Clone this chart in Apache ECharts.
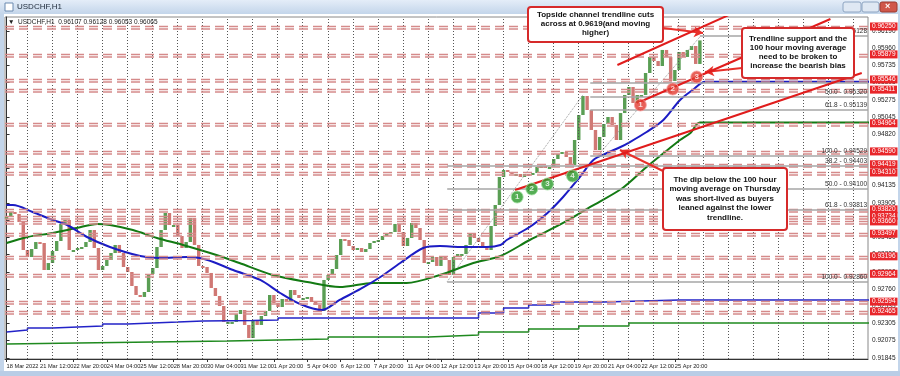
<!DOCTYPE html>
<html>
<head>
<meta charset="utf-8">
<script src="https://cdn.jsdelivr.net/npm/echarts@6/dist/echarts.min.js"></script>
<style>
html, body { margin: 0; padding: 0; background: #fff; }
#chart { width: 900px; height: 376px; }
</style>
</head>
<body>
<div id="chart"></div>
<script>
// one candle every 4 hourly bars, open = previous close
const barsPerCandle = 4;
const closes = [
  0.93719, 0.93785, 0.93759, 0.93652, 0.93280, 0.93187, 0.93293, 0.93386, 0.93373, 0.93014,
  0.93107, 0.93267, 0.93400, 0.93626, 0.93679, 0.93280, 0.93280, 0.93307, 0.93320, 0.93386,
  0.93546, 0.93307, 0.93014, 0.93068, 0.93147, 0.93240, 0.93347, 0.93240, 0.93054, 0.92988,
  0.92802, 0.92682, 0.92656, 0.92722, 0.92961, 0.93041, 0.93320, 0.93546, 0.93772, 0.93612,
  0.93612, 0.93466, 0.93307, 0.93386, 0.93705, 0.93347, 0.93068, 0.93054, 0.92975, 0.92775,
  0.92669, 0.92536, 0.92324, 0.92324, 0.92324, 0.92430, 0.92483, 0.92284, 0.92111, 0.92350,
  0.92284, 0.92403, 0.92470, 0.92682, 0.92576, 0.92523, 0.92629, 0.92589, 0.92749, 0.92682,
  0.92642, 0.92642, 0.92656, 0.92589, 0.92549, 0.92470, 0.92882, 0.92948, 0.93028, 0.93214,
  0.93426, 0.93413, 0.93333, 0.93280, 0.93307, 0.93254, 0.93293, 0.93373, 0.93400, 0.93413,
  0.93466, 0.93506, 0.93519, 0.93626, 0.93519, 0.93333, 0.93440, 0.93639, 0.93572, 0.93413,
  0.93107, 0.93121, 0.93187, 0.93068, 0.93200, 0.93147, 0.92948, 0.93187, 0.93227, 0.93227,
  0.93347, 0.93506, 0.93440, 0.93386, 0.93333, 0.93280, 0.93599, 0.93878, 0.94250, 0.94343,
  0.94317, 0.94290, 0.94290, 0.94250, 0.94290, 0.94277, 0.94303, 0.94383, 0.94396, 0.94383,
  0.94383, 0.94489, 0.94556, 0.94582, 0.94516, 0.94410, 0.94742, 0.95074, 0.95326, 0.95140,
  0.94875, 0.94609, 0.94782, 0.94954, 0.95047, 0.94941, 0.94742, 0.95100, 0.95340, 0.95446,
  0.95233, 0.95340, 0.95340, 0.95632, 0.95845, 0.95791, 0.95725, 0.95938, 0.95845, 0.95526,
  0.95672, 0.95911, 0.95845, 0.95938, 0.95991, 0.95752, 0.96065
];

const xLabelBars = [0, 32, 64, 96, 128, 160, 192, 224, 256, 288, 320, 352, 384, 416, 448, 480, 512, 544, 576, 608, 640];
const xLabelText = ['18 Mar 2022', '21 Mar 12:00', '22 Mar 20:00', '24 Mar 04:00', '25 Mar 12:00', '28 Mar 20:00',
  '30 Mar 04:00', '31 Mar 12:00', '1 Apr 20:00', '5 Apr 04:00', '6 Apr 12:00', '7 Apr 20:00', '11 Apr 04:00',
  '12 Apr 12:00', '13 Apr 20:00', '15 Apr 04:00', '18 Apr 12:00', '19 Apr 20:00', '21 Apr 04:00', '22 Apr 12:00', '25 Apr 20:00'];

const yTicks = [0.96190, 0.95960, 0.95735, 0.95505, 0.95275, 0.95045, 0.94820, 0.94590, 0.94365, 0.94135,
  0.93905, 0.93680, 0.93450, 0.93220, 0.92990, 0.92760, 0.92535, 0.92305, 0.92075, 0.91845];

const redLevels = [0.96250, 0.95879, 0.95546, 0.95411, 0.94964, 0.94590, 0.94419, 0.94310, 0.93820,
  0.93734, 0.93660, 0.93497, 0.93196, 0.92964, 0.92594, 0.92465];

// [bar, price]
const h1Ma100 = [[0, 0.93878], [6, 0.93878], [25, 0.93785], [44, 0.93679], [58, 0.93612], [77, 0.93453],
  [99, 0.93320], [128, 0.93200], [147, 0.93174], [173, 0.93187], [185, 0.93174], [198, 0.93121],
  [217, 0.93014], [243, 0.92882], [262, 0.92709], [281, 0.92563], [302, 0.92483], [319, 0.92616],
  [339, 0.92762], [358, 0.92921], [377, 0.93107], [399, 0.93307], [415, 0.93333], [434, 0.93320],
  [460, 0.93320], [473, 0.93347], [479, 0.93413], [501, 0.93586], [518, 0.93772], [533, 0.93984],
  [549, 0.94250], [562, 0.94476], [575, 0.94569], [588, 0.94649], [597, 0.94715], [613, 0.94848],
  [629, 0.95008], [645, 0.95273], [657, 0.95406], [669, 0.95517], [826, 0.95517]];
const h1Ma200 = [[0, 0.93373], [20, 0.93453], [44, 0.93506], [67, 0.93572], [87, 0.93626], [99, 0.93612],
  [121, 0.93546], [144, 0.93440], [169, 0.93347], [201, 0.93214], [223, 0.93107], [255, 0.92948],
  [288, 0.92855], [319, 0.92788], [351, 0.92842], [383, 0.92842], [415, 0.92948], [447, 0.93107],
  [473, 0.93200], [501, 0.93413], [533, 0.93639], [559, 0.93852], [590, 0.94104], [613, 0.94383],
  [633, 0.94609], [645, 0.94742], [655, 0.94835], [664, 0.94975], [826, 0.94975]];
const d1Ma100 = [[0, 0.92191], [20, 0.92217], [44, 0.92244], [68, 0.92257], [92, 0.92270], [116, 0.92297],
  [140, 0.92310], [164, 0.92323], [188, 0.92337], [236, 0.92343], [260, 0.92350], [452, 0.92377],
  [476, 0.92443], [500, 0.92510], [524, 0.92549], [572, 0.92589], [644, 0.92615], [826, 0.92615]];
const d1Ma200 = [[0, 0.92031], [68, 0.92044], [140, 0.92058], [212, 0.92071], [308, 0.92097], [404, 0.92124],
  [452, 0.92150], [500, 0.92190], [548, 0.92230], [596, 0.92270], [644, 0.92310], [826, 0.92310]];

const fibValues = [0.96128, 0.95507, 0.95320, 0.95139, 0.94529, 0.94403, 0.94100, 0.93813, 0.92860];
const fibNames = ['0.96128', '', '50.0 - 0.95320', '61.8 - 0.95139', '100.0 - 0.94529',
  '38.2 - 0.94403', '50.0 - 0.94100', '61.8 - 0.93813', '100.0 - 0.92860'];
const fibStart = [664, 559, 559, 559, 559, 422, 422, 422, 422];

const trendLines = [
  [[585, 0.95738], [698, 0.96442]],
  [[604, 0.95233], [789, 0.96349]],
  [[487, 0.94077], [819, 0.95632]]
];
const fibDiagonals = [
  [[422, 0.92860], [552, 0.95340]],
  [[566, 0.94529], [665, 0.96128]]
];
const redPoints = [[607, 0.95207], [638, 0.95419], [661, 0.95579]];
const greenPoints = [[489, 0.93984], [503, 0.94091], [518, 0.94157], [542, 0.94263]];

const lastPrice = 0.96065;

// -------------------------------------------------------------
const candleData = closes.map((c, k) => [k * barsPerCandle, k === 0 ? c : closes[k - 1], c]);

const chart = echarts.init(document.getElementById('chart'), null, { renderer: 'canvas' });
const F = '"Liberation Sans", Arial, sans-serif';

const gridLines = [];
for (let b = 20.2; b < 825; b += 23.95) gridLines.push({ xAxis: b });

function helper(name, markLine) {
  return {
    type: 'line', name, data: [[0, 0.94]], symbol: 'none', silent: true,
    lineStyle: { opacity: 0 },
    markLine: Object.assign({ silent: true, symbol: 'none', precision: 5, animation: false }, markLine)
  };
}

function maLabel(bar, value, text, color) {
  return { silent: true, symbol: 'none', precision: 5,
    data: [[{ coord: [bar, value], name: text }, { coord: [825, value] }]],
    lineStyle: { opacity: 0 },
    label: { position: 'insideEndTop', formatter: '{b}', distance: 1, fontSize: 6.5, fontFamily: F, color } };
}

const option = {
  animation: false,
  backgroundColor: '#fff',
  grid: { left: 5, right: 32, top: 17, bottom: 17, show: true, borderColor: '#888', borderWidth: 1, backgroundColor: '#fff' },
  xAxis: {
    type: 'value', min: -1.5, max: 825,
    axisLine: { show: true, lineStyle: { color: '#333' } },
    axisTick: { show: true, customValues: xLabelBars, length: 3, lineStyle: { color: '#333' } },
    axisLabel: {
      customValues: xLabelBars, align: 'left', margin: 4, fontSize: 5.7, fontFamily: F, color: '#222',
      hideOverlap: false,
      formatter: v => xLabelText[xLabelBars.indexOf(v)] || ''
    },
    splitLine: { show: false }
  },
  yAxis: {
    type: 'value', position: 'right', min: 0.918318, max: 0.963760, scale: true,
    axisLine: { show: true, lineStyle: { color: '#333' } },
    axisTick: { show: true, customValues: yTicks, length: 3, lineStyle: { color: '#333' } },
    axisLabel: { customValues: yTicks, margin: 4, fontSize: 6.5, fontFamily: F, color: '#222', formatter: v => v.toFixed(5) },
    splitLine: { show: false }
  },
  series: [
    helper('grid', { data: gridLines, label: { show: false }, lineStyle: { color: '#555', type: [1, 2], width: 1 } }),
    helper('levels', {
      data: redLevels.map(v => ({ yAxis: v, name: v.toFixed(5) })),
      lineStyle: { color: '#d58a8a', type: [9, 5], width: 1.3, shadowColor: '#d58a8a', shadowOffsetY: 2.5, shadowBlur: 0 },
      label: { position: 'end', formatter: '{b}', distance: 2, fontSize: 6.5, fontFamily: F, color: '#fff',
        backgroundColor: '#e8262a', padding: [1, 2, 0, 2] }
    }),
    helper('fib', {
      data: fibValues.map((v, i) => [{ coord: [fibStart[i], v], name: fibNames[i] }, { coord: [825, v] }]),
      lineStyle: { color: '#a6a6a6', type: 'solid', width: 1.5 },
      label: { position: 'insideEndTop', formatter: '{b}', distance: 1, fontSize: 6.5, fontFamily: F, color: '#333' }
    }),
    {
      type: 'custom', name: 'price', data: candleData, silent: true,
      renderItem: (params, api) => {
        const i = api.value(0), o = api.value(1), c = api.value(2);
        const p0 = api.coord([i, o]);
        const p1 = api.coord([i, c]);
        const w = 3.4;
        const top = Math.min(p0[1], p1[1]);
        const h = Math.max(2, Math.abs(p1[1] - p0[1]));
        return { type: 'rect', shape: { x: p0[0] - w / 2, y: top, width: w, height: h },
          style: { fill: c >= o ? '#5a9e54' : '#d07874' } };
      }
    },
    ...fibDiagonals.map(d => ({ type: 'line', data: d, symbol: 'none', silent: true,
      lineStyle: { color: '#999', type: 'dotted', width: 1 } })),
    { type: 'line', name: 'D1 MA100', data: d1Ma100, step: 'start', symbol: 'none', lineStyle: { color: '#2323c8', width: 1.5 },
      markLine: maLabel(700, 0.92615, 'D1 MA(100,0) 0.92615', '#4040c0') },
    { type: 'line', name: 'D1 MA200', data: d1Ma200, step: 'start', symbol: 'none', lineStyle: { color: '#1f8a1f', width: 1.5 },
      markLine: maLabel(700, 0.92310, 'D1 MA(200,0) 0.92365', '#2a8a2a') },
    { type: 'line', name: 'H1 MA200', data: h1Ma200, symbol: 'none', smooth: 0.3, lineStyle: { color: '#137a13', width: 2 },
      markLine: maLabel(700, 0.94975, 'H1 MA(200,0) 0.94975', '#2a8a2a') },
    { type: 'line', name: 'H1 MA100', data: h1Ma100, symbol: 'none', smooth: 0.3, lineStyle: { color: '#1c1cc4', width: 2 },
      markLine: maLabel(700, 0.95517, 'H1 MA(100,0) 0.95517', '#4040c0') },
    ...trendLines.map(d => ({ type: 'line', data: d, symbol: 'none', silent: true, z: 5,
      lineStyle: { color: '#e01c1c', width: 2 } })),
    helper('last', {
      data: [{ yAxis: lastPrice, name: lastPrice.toFixed(5) }],
      lineStyle: { opacity: 0 },
      label: { position: 'end', formatter: '{b}', distance: 2, fontSize: 6.5, fontFamily: F, color: '#fff',
        backgroundColor: '#111', padding: [1, 2, 0, 2] }
    }),
    {
      type: 'scatter', data: redPoints.map((p, i) => ({ value: p, label: { formatter: String(i + 1) } })),
      symbolSize: 12, z: 6, itemStyle: { color: '#e23a30', borderColor: '#f6a0a0', borderWidth: 1 },
      label: { show: true, position: 'inside', color: '#fff', fontSize: 8, fontWeight: 'bold', fontFamily: F }
    },
    {
      type: 'scatter', data: greenPoints.map((p, i) => ({ value: p, label: { formatter: String(i + 1) } })),
      symbolSize: 12, z: 6, itemStyle: { color: '#2a9a2a', borderColor: '#a0e0a0', borderWidth: 1 },
      label: { show: true, position: 'inside', color: '#fff', fontSize: 8, fontWeight: 'bold', fontFamily: F }
    },
    helper('arrows', {
      symbol: ['none', 'arrow'], symbolSize: [8, 9],
      data: [
        [{ x: 663, y: 28 }, { x: 703, y: 33 }],
        [{ x: 742, y: 68 }, { x: 705, y: 72 }],
        [{ x: 663, y: 171 }, { x: 620, y: 150 }]
      ],
      label: { show: false },
      lineStyle: { color: '#e8302a', width: 2, type: 'solid' }
    })
  ],
  graphic: [
    // window chrome
    { type: 'rect', z: 50, shape: { x: 0, y: 0, width: 900, height: 14 },
      style: { fill: new echarts.graphic.LinearGradient(0, 0, 0, 1, [{ offset: 0, color: '#e4edf8' }, { offset: 1, color: '#c3d5ea' }]) } },
    { type: 'rect', z: 50, shape: { x: 0, y: 14, width: 4, height: 362 }, style: { fill: '#c3d5ea' } },
    { type: 'rect', z: 50, shape: { x: 898, y: 14, width: 2, height: 362 }, style: { fill: '#c3d5ea' } },
    { type: 'rect', z: 50, shape: { x: 0, y: 371, width: 900, height: 5 }, style: { fill: '#b9cde6' } },
    { type: 'rect', z: 51, shape: { x: 5, y: 3, width: 8, height: 8 }, style: { fill: '#fff', stroke: '#6a8ab0', lineWidth: 1 } },
    { type: 'text', z: 51, x: 17, y: 3, style: { text: 'USDCHF,H1', font: '8px ' + F, fill: '#1e2a3a' } },
    { type: 'rect', z: 51, shape: { x: 843, y: 2, width: 18, height: 10, r: 2 }, style: { fill: '#dfe8f3', stroke: '#8ea5c2' } },
    { type: 'rect', z: 51, shape: { x: 862, y: 2, width: 17, height: 10, r: 2 }, style: { fill: '#dfe8f3', stroke: '#8ea5c2' } },
    { type: 'rect', z: 51, shape: { x: 880, y: 2, width: 17, height: 10, r: 2 }, style: { fill: '#d0574a', stroke: '#9a3a30' } },
    { type: 'text', z: 52, x: 885, y: 2, style: { text: '×', font: 'bold 9px ' + F, fill: '#fff' } },
    // header
    { type: 'text', z: 40, x: 8, y: 19, style: { text: '▼  USDCHF,H1  0.96107 0.96128 0.96053 0.96065', font: '6.5px ' + F, fill: '#222' } },
    // callouts
    { type: 'rect', z: 60, shape: { x: 528, y: 7, width: 135, height: 35, r: 3 }, style: { fill: '#fff', stroke: '#d62a2a', lineWidth: 2 } },
    { type: 'text', z: 61, x: 595.5, y: 10, style: { text: 'Topside channel trendline cuts\nacross at 0.9619(and moving\nhigher)',
      font: 'bold 8px ' + F, fill: '#111', align: 'center', lineHeight: 9.3 } },
    { type: 'rect', z: 60, shape: { x: 742, y: 28, width: 112, height: 50, r: 3 }, style: { fill: '#fff', stroke: '#d62a2a', lineWidth: 2 } },
    { type: 'text', z: 61, x: 798, y: 34, style: { text: 'Trendline support and the\n100 hour moving average\nneed to be broken to\nincrease the bearish bias',
      font: 'bold 8px ' + F, fill: '#111', align: 'center', lineHeight: 9.1 } },
    { type: 'rect', z: 60, shape: { x: 663, y: 168, width: 124, height: 62, r: 3 }, style: { fill: '#fff', stroke: '#d62a2a', lineWidth: 2 } },
    { type: 'text', z: 61, x: 725, y: 175, style: { text: 'The dip below the 100 hour\nmoving average on Thursday\nwas short-lived as buyers\nleaned against the lower\ntrendline.',
      font: 'bold 8px ' + F, fill: '#111', align: 'center', lineHeight: 9.4 } }
  ]
};

chart.setOption(option);
window.addEventListener('resize', () => chart.resize());
</script>
</body>
</html>
